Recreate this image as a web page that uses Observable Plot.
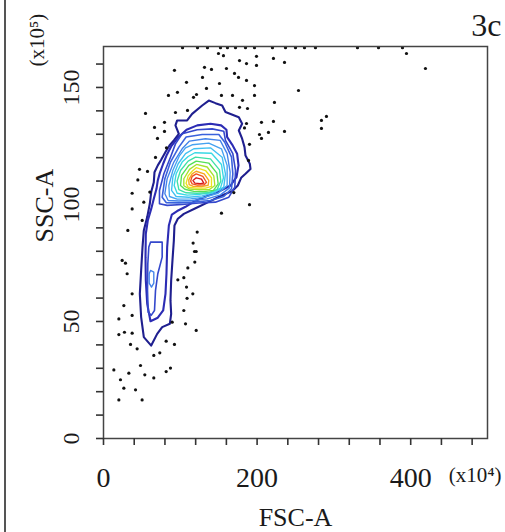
<!DOCTYPE html>
<html>
<head>
<meta charset="utf-8">
<script src="https://cdn.jsdelivr.net/npm/d3@7"></script>
<script src="https://cdn.jsdelivr.net/npm/@observablehq/plot@0.6"></script>
<style>
  html, body { margin: 0; padding: 0; background: #fff; }
  #wrap { position: relative; width: 505px; height: 532px; }
  #edge { position: absolute; left: 4px; top: 0; width: 2px; height: 532px; background: #555; }
</style>
</head>
<body>
<div id="wrap"><div id="edge"></div></div>
<script>
// ---- axes ----
const xTicks = [0, 40, 80, 120, 160, 200, 240, 280, 320, 360, 400, 440, 480];
const xTickLabels = [0, 200, 400];
const yTicks = [0, 10, 20, 30, 40, 50, 60, 70, 80, 90, 100, 110, 120, 130, 140, 150, 160];
const yTickLabels = [0, 50, 100, 150];

// ---- contour levels (outer = 1 ... core = 15) ----
const levels = [1, 2, 3, 4, 5, 6, 7, 8, 9, 10, 11, 12, 13, 14, 15];
const levelColors = ["#1f1f8f","#2c2cb4","#3448cc","#3a62dc","#4282ea","#45a2f0","#3fc0f2","#38d8e4","#3ee0a8","#55e055","#a6e22e","#ebe21e","#f7a51f","#f0501e","#d51a1a"];

// contour polygons, [FSC-A (x10^4), SSC-A (x10^3)]
const ring1 = [[62.1,39.7],[52.5,43.3],[49.0,51.9],[47.3,61.8],[49.0,71.8],[50.8,81.8],[52.5,88.9],[56.9,94.6],[60.3,100.3],[62.1,105.3],[65.5,109.5],[66.4,113.8],[70.7,116.7],[75.1,119.1],[80.7,122.4],[85.9,125.2],[91.6,127.4],[98.1,130.2],[93.7,133.8],[95.9,135.9],[108.9,135.9],[115.4,138.7],[128.5,142.3],[137.1,144.4],[145.8,143.3],[154.5,142.3],[158.8,139.5],[176.2,137.3],[180.5,134.5],[176.2,131.6],[180.5,128.1],[183.6,124.5],[184.9,120.9],[190.5,117.4],[191.4,115.2],[184.9,113.1],[179.2,111.4],[174.9,108.1],[167.5,105.7],[153.2,103.7],[137.1,101.1],[119.8,98.4],[104.6,96.0],[96.8,93.9],[92.4,91.0],[91.6,84.6],[89.8,76.1],[88.1,67.5],[87.2,59.0],[88.1,53.3],[86.4,49.0],[76.4,47.6],[69.9,44.7]];
const ring2 = [[61.2,50.1],[56.9,57.6],[55.1,67.5],[54.7,77.5],[55.1,87.5],[57.7,93.2],[62.1,98.1],[65.5,102.4],[69.0,106.7],[70.7,110.3],[73.3,113.4],[77.7,117.4],[82.0,120.9],[88.1,124.8],[96.8,128.5],[108.1,131.9],[122.0,133.8],[139.3,134.5],[153.2,133.8],[160.1,131.9],[161.0,128.8],[167.5,125.6],[174.0,121.7],[175.8,116.7],[173.2,111.7],[165.4,108.1],[151.5,105.7],[135.0,103.6],[119.8,101.6],[106.8,99.0],[95.9,97.2],[89.0,95.7],[85.1,91.0],[82.9,81.8],[82.0,70.4],[80.7,61.8],[77.7,54.7],[70.7,51.6]];
const ring3 = [[102.4,130.2],[122.0,131.9],[141.5,132.3],[156.6,131.3],[158.8,127.4],[168.4,121.7],[171.9,114.5],[171.0,107.4],[163.2,103.1],[145.8,101.0],[124.1,100.6],[102.4,100.0],[82.9,99.6],[72.9,100.3],[72.9,106.0],[78.6,113.1],[87.2,120.2],[93.7,125.9]];
const ring3tail = [[61.2,83.9],[76.4,83.9],[76.4,77.5],[70.7,70.4],[67.7,63.2],[66.4,54.7],[62.1,52.6],[58.2,54.0],[57.3,63.2],[57.7,74.6],[59.0,81.8]];
const ring4 = [[107.6,128.8],[128.5,129.9],[150.2,129.9],[157.9,126.6],[166.7,120.2],[168.4,113.1],[166.7,106.7],[156.6,103.4],[139.3,101.7],[117.6,101.0],[98.1,100.7],[81.6,100.8],[76.4,103.1],[79.9,111.0],[87.2,118.1],[98.1,124.5]];
const ring5 = [[112.0,127.1],[132.8,128.1],[151.9,127.4],[161.0,121.7],[164.9,113.8],[164.0,107.1],[152.3,104.1],[135.0,102.4],[115.4,101.7],[98.1,101.5],[84.2,101.7],[79.9,104.6],[82.9,111.0],[91.6,118.1],[102.4,123.8]];
const ring5tail = [[61.2,71.8],[65.5,71.1],[65.5,66.4],[62.5,64.7],[59.5,66.4],[59.5,70.4]];
const ring6 = [[115.4,125.5],[137.1,126.2],[153.6,123.8],[161.0,116.7],[161.0,108.1],[149.3,104.8],[131.9,103.1],[113.3,102.4],[95.9,102.3],[85.9,103.4],[85.1,108.1],[90.3,114.5],[99.0,120.9],[106.8,124.2]];
const ring7 = [[117.6,123.8],[139.3,124.2],[154.5,120.2],[158.8,113.1],[156.6,107.4],[145.0,105.1],[128.5,103.7],[111.1,103.1],[94.6,103.4],[88.6,106.0],[90.3,111.7],[97.2,117.4],[106.8,121.7]];
const ring8 = [[118.9,122.1],[140.6,121.9],[153.6,117.1],[156.2,111.4],[152.3,107.0],[140.6,105.1],[125.0,104.3],[108.9,104.0],[95.9,104.8],[92.0,108.1],[94.6,113.1],[102.4,118.1],[110.2,120.5]];
const ring9 = [[119.8,120.2],[139.3,119.5],[151.0,114.8],[152.8,110.0],[148.0,106.5],[136.3,105.0],[122.0,104.8],[107.6,105.0],[98.1,106.3],[95.9,110.0],[100.3,114.5],[110.2,118.5]];
const ring10 = [[120.7,118.5],[137.1,117.7],[147.6,113.4],[149.3,108.8],[143.2,106.0],[130.6,105.5],[117.6,105.6],[105.9,106.5],[100.3,108.1],[101.6,112.4],[111.1,116.7]];
const ring11 = [[121.1,117.1],[135.0,116.0],[143.6,112.2],[145.0,108.1],[138.0,106.4],[125.0,106.3],[112.0,106.6],[104.6,108.0],[104.6,111.0],[112.0,115.0]];
const ring12 = [[120.7,115.7],[132.8,114.5],[140.6,111.4],[140.6,107.7],[132.8,107.0],[120.7,107.0],[110.2,107.4],[107.5,109.0],[110.2,112.2],[115.4,114.2]];
const ring13 = [[120.7,114.2],[131.1,113.1],[137.1,110.3],[136.3,108.2],[127.6,107.6],[116.3,107.8],[111.5,108.5],[111.0,110.5],[115.4,113.1]];
const ring14 = [[120.7,113.1],[129.3,112.0],[134.1,109.5],[131.1,108.4],[122.4,108.3],[115.5,108.8],[113.5,110.0],[115.4,112.0]];
const ring15 = [[120.7,111.4],[127.6,110.8],[130.6,109.1],[125.8,108.9],[119.0,109.1],[116.5,110.2]];

const contourSet = [
  {level: 1, ring: ring1}, {level: 2, ring: ring2}, {level: 3, ring: ring3}, {level: 3, ring: ring3tail},
  {level: 4, ring: ring4}, {level: 5, ring: ring5}, {level: 5, ring: ring5tail}, {level: 6, ring: ring6},
  {level: 7, ring: ring7}, {level: 8, ring: ring8}, {level: 9, ring: ring9}, {level: 10, ring: ring10},
  {level: 11, ring: ring11}, {level: 12, ring: ring12}, {level: 13, ring: ring13}, {level: 14, ring: ring14},
  {level: 15, ring: ring15}
];

// ---- outlying events ----
const topEdgeY = 167; // events piled at the top of the SSC range
const topEdgeX = [102.9,122.4,135.4,152.3,161.4,171.9,184.9,196.6,220.0,237.0,250.0,261.7,276.0,330.7,358.1,389.3];
const outliers = [[149.7,164.5],[156.2,163.6],[177.1,161.5],[186.2,160.2],[199.2,163.3],[221.3,162.4],[235.7,160.7],[394.5,164.5],[419.2,158.1],[92.4,157.3],[131.5,158.6],[140.6,157.7],[160.1,158.1],[170.6,156.0],[175.8,154.3],[186.2,153.0],[199.2,159.4],[108.1,152.2],[128.9,154.3],[151.0,151.7],[196.6,150.8],[253.9,148.7],[84.6,146.6],[96.3,147.9],[117.2,145.8],[121.1,147.0],[134.1,149.6],[153.6,146.6],[168.0,146.6],[181.0,144.5],[196.6,146.6],[222.6,143.6],[54.7,138.9],[93.7,139.3],[109.4,140.2],[177.1,141.5],[187.5,141.0],[66.4,132.9],[79.4,135.1],[79.4,131.2],[70.3,128.2],[186.2,134.6],[205.7,135.1],[221.3,135.5],[203.1,129.9],[214.8,130.8],[205.7,128.2],[235.7,131.2],[190.1,125.7],[283.8,135.9],[290.3,137.6],[283.8,132.5],[67.7,120.1],[46.9,115.0],[57.3,114.1],[188.8,118.8],[183.6,132.7],[82.0,124.2],
[44.7,110.5],[37.3,104.8],[60.3,105.3],[52.5,101.0],[37.3,98.1],[169.7,105.1],[190.1,99.9],[153.6,96.3],[31.7,88.9],[50.4,93.2],[122.0,88.2],[116.7,83.5],[118.5,79.9],[120.7,79.9],[118.9,75.4],[24.3,76.1],[28.6,74.9],[30.8,70.4],[109.8,72.9],[104.6,68.7],[96.8,67.8],[108.1,64.7],[116.3,61.8],[108.8,59.9],[37.3,61.8],[26.5,56.8],[104.6,54.7],[106.8,49.0],[89.4,49.7],[37.3,52.6],[20.0,51.1],[120.7,46.2],[20.0,44.4],[27.3,45.4],[37.3,45.0],[35.2,40.2],[43.8,38.3],[81.6,41.6],[92.4,40.2],[65.5,35.5],[73.3,36.6],[48.2,31.2],[53.8,27.2],[65.5,25.9],[81.6,28.6],[87.2,30.1],[13.5,29.3],[33.0,27.9],[22.1,25.1],[26.5,21.5],[41.7,20.8],[20.0,16.5],[50.3,16.5]];

// ---- tables for the library ----
const contourRows = contourSet.flatMap((c, id) => c.ring.map(([x, y]) => ({id, level: c.level, x, y})));
const dotRows = outliers.map(([x, y]) => ({x, y})).concat(topEdgeX.map(x => ({x, y: topEdgeY})));
const xLabelRows = xTickLabels.map(v => ({v, label: String(v)}));
const yLabelRows = yTickLabels.map(v => ({v, label: String(v)}));

const serif = "Liberation Serif, Times New Roman, serif";
const ink = "#1a1a1a";

const chart = Plot.plot({
  width: 505,
  height: 532,
  marginLeft: 103,
  marginRight: 18,
  marginTop: 46,
  marginBottom: 94,
  style: {fontFamily: serif, background: "transparent", color: ink},
  x: {domain: [0, 500]},
  y: {domain: [0, 167.5]},
  color: {type: "ordinal", domain: levels, range: levelColors},
  marks: [
    Plot.line(contourRows, {
      x: "x", y: "y", z: "id", stroke: "level", curve: "linear-closed",
      strokeWidth: d => d.level <= 2 ? 2.1 : d.level <= 4 ? 1.6 : 1.35
    }),
    Plot.dot(dotRows, {x: "x", y: "y", r: 1.6, fill: "#111", stroke: null}),
    Plot.frame({stroke: "#444", strokeWidth: 1.5}),
    Plot.axisX({ticks: xTicks, tickSize: 7, strokeWidth: 1.6, stroke: "#333", tickFormat: () => "", label: null}),
    Plot.axisY({ticks: yTicks, tickSize: 7, strokeWidth: 1.6, stroke: "#333", tickFormat: () => "", label: null}),
    Plot.text(xLabelRows, {x: "v", text: "label", frameAnchor: "bottom", dy: 29, lineAnchor: "top",
      textAnchor: "middle", fontSize: 28, fontFamily: serif, fill: ink}),
    Plot.text(yLabelRows, {y: "v", text: "label", frameAnchor: "left", dx: -25, rotate: -90,
      textAnchor: "middle", lineAnchor: "bottom", fontSize: 24, fontFamily: serif, fill: ink,
      ariaLabel: "y-tick-labels"}),
    Plot.text(["FSC-A"], {frameAnchor: "bottom", dy: 87, lineAnchor: "bottom", fontSize: 26, fontFamily: serif, fill: ink}),
    Plot.text(["SSC-A"], {frameAnchor: "left", dx: -51, rotate: -90, lineAnchor: "bottom", fontSize: 26, fontFamily: serif, fill: ink}),
    Plot.text(["(x10\u2075)"], {frameAnchor: "top-left", dx: -60, dy: 20, rotate: -90, lineAnchor: "bottom", fontSize: 21, fontFamily: serif, fill: ink}),
    Plot.text(["(x10\u2074)"], {frameAnchor: "bottom-right", dx: 14, dy: 43, textAnchor: "end", lineAnchor: "bottom", fontSize: 21, fontFamily: serif, fill: ink}),
    Plot.text(["3c"], {frameAnchor: "top-right", dx: 14, dy: -11, textAnchor: "end", lineAnchor: "bottom", fontSize: 32, fontFamily: serif, fill: ink})
  ]
});
// make sure the y tick labels read bottom-to-top, as in the reference
chart.querySelectorAll('g[aria-label="y-tick-labels"] text').forEach(t => {
  const tr = t.getAttribute("transform") || "";
  if (!/rotate/.test(tr)) t.setAttribute("transform", tr + " rotate(-90)");
});
document.getElementById("wrap").appendChild(chart);
</script>
</body>
</html>
